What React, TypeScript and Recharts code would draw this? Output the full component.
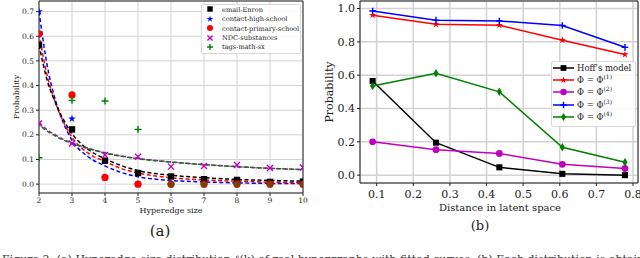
import React from 'react';
import {
  ComposedChart,
  Line,
  Scatter,
  XAxis,
  YAxis,
  CartesianGrid,
  ReferenceArea,
} from 'recharts';

// panel (a): hyperedge size distribution
const sizes = [2, 3, 4, 5, 6, 7, 8, 9, 10];
const enron = [0.565, 0.222, 0.095, 0.045, 0.031, 0.02, 0.017, 0.009, 0.01];
const highSchool = [0.7, 0.265, 0.027, 0, 0, 0, 0, 0, 0];
const primarySchool = [0.61, 0.362, 0.027, 0, 0, 0, 0, 0, 0];
const ndc = [0.246, 0.165, 0.118, 0.111, 0.071, 0.074, 0.078, 0.065, 0.067];
const tagsMath = [0.107, 0.34, 0.337, 0.222, 0, 0, 0, 0, 0];

// fitted curves
const fitX = [2, 2.25, 2.5, 2.75, 3, 3.5, 4, 4.5, 5, 6, 7, 8, 9, 10];
const fitEnron = [0.565, 0.42, 0.33, 0.26, 0.205, 0.14, 0.103, 0.075, 0.055, 0.036, 0.026, 0.019, 0.015, 0.012];
const fitPrimary = [0.61, 0.44, 0.33, 0.25, 0.19, 0.125, 0.092, 0.063, 0.045, 0.026, 0.017, 0.012, 0.008, 0.006];
const fitHigh = [0.7, 0.48, 0.34, 0.245, 0.178, 0.11, 0.074, 0.047, 0.03, 0.015, 0.009, 0.005, 0.003, 0.002];
const fitNdc = [0.25, 0.22, 0.2, 0.18, 0.167, 0.145, 0.127, 0.114, 0.104, 0.09, 0.079, 0.071, 0.064, 0.059];
const fitTags = [0.24, 0.215, 0.195, 0.178, 0.165, 0.144, 0.126, 0.113, 0.103, 0.089, 0.079, 0.071, 0.064, 0.059];

const yTicksA = [0, 0.1, 0.2, 0.3, 0.4, 0.5, 0.6, 0.7];

// panel (b): probability vs latent distance
const distances = [0.089, 0.262, 0.435, 0.607, 0.778];
const hoff = [0.565, 0.195, 0.047, 0.008, 0.0];
const phi1 = [0.96, 0.905, 0.9, 0.81, 0.724];
const phi2 = [0.2, 0.153, 0.13, 0.065, 0.04];
const phi3 = [0.985, 0.93, 0.925, 0.898, 0.767];
const phi4 = [0.535, 0.612, 0.5, 0.167, 0.078];

const xTicksB = [0.1, 0.2, 0.3, 0.4, 0.5, 0.6, 0.7, 0.8];
const yTicksB = [0, 0.2, 0.4, 0.6, 0.8, 1.0];

const FONT = 'DejaVu Serif';

const pts = (xs: number[], ys: number[]) => xs.map((x, i) => ({ x, y: ys[i] }));

// marker shapes (matplotlib-like)
const starPath = (cx: number, cy: number, r: number) => {
  let d = '';
  for (let i = 0; i < 10; i++) {
    const rad = i % 2 === 0 ? r : r * 0.382;
    const a = -Math.PI / 2 + (i * Math.PI) / 5;
    d += (i === 0 ? 'M' : 'L') + (cx + rad * Math.cos(a)) + ',' + (cy + rad * Math.sin(a));
  }
  return d + 'Z';
};

function Marker({ kind, cx, cy, color, s = 1 }: { kind: string; cx: number; cy: number; color: string; s?: number }) {
  if (cx == null || cy == null) return null;
  switch (kind) {
    case 'square':
      return <rect x={cx - 3.2 * s} y={cy - 3.2 * s} width={6.4 * s} height={6.4 * s} fill={color} />;
    case 'star':
      return <path d={starPath(cx, cy, 4 * s)} fill={color} />;
    case 'circle':
      return <circle cx={cx} cy={cy} r={3.6 * s} fill={color} />;
    case 'x':
      return (
        <path
          d={`M${cx - 3 * s},${cy - 3 * s}L${cx + 3 * s},${cy + 3 * s}M${cx - 3 * s},${cy + 3 * s}L${cx + 3 * s},${cy - 3 * s}`}
          stroke={color}
          strokeWidth={1.4}
        />
      );
    case 'plus':
      return (
        <path
          d={`M${cx - 3.5 * s},${cy}L${cx + 3.5 * s},${cy}M${cx},${cy - 3.5 * s}L${cx},${cy + 3.5 * s}`}
          stroke={color}
          strokeWidth={1.4}
        />
      );
    case 'thin_diamond':
      return (
        <path
          d={`M${cx},${cy - 4.5 * s}L${cx + 2.7 * s},${cy}L${cx},${cy + 4.5 * s}L${cx - 2.7 * s},${cy}Z`}
          fill={color}
        />
      );
    default:
      return null;
  }
}

const scatterShape = (kind: string, color: string, s = 1) => (p: any) => (
  <Marker kind={kind} cx={p.cx} cy={p.cy} color={color} s={s} />
);

const lineDot = (kind: string, color: string) => (p: any) => (
  <Marker key={p.index} kind={kind} cx={p.cx} cy={p.cy} color={color} s={0.95} />
);

const tickA = { fontSize: 7.5, fill: '#222', fontFamily: FONT };
const tickB = { fontSize: 11, fill: '#222', fontFamily: FONT };

const seriesA = [
  { name: 'email-Enron', kind: 'square', color: '#000000' },
  { name: 'contact-high-school', kind: 'star', color: '#0000ff' },
  { name: 'contact-primary-school', kind: 'circle', color: '#ff0000' },
  { name: 'NDC-substances', kind: 'x', color: '#bf00bf' },
  { name: 'tags-math-sx', kind: 'plus', color: '#008000' },
];

const seriesB = [
  { sup: '', label: "Hoff's model", kind: 'square', color: '#000000' },
  { sup: '(1)', label: 'Φ = Φ', kind: 'star', color: '#ff0000' },
  { sup: '(2)', label: 'Φ = Φ', kind: 'circle', color: '#bf00bf' },
  { sup: '(3)', label: 'Φ = Φ', kind: 'plus', color: '#0000ff' },
  { sup: '(4)', label: 'Φ = Φ', kind: 'thin_diamond', color: '#008000' },
];

function PanelA() {
  const dash = '4 2.5';
  return (
    <ComposedChart width={320} height={258} margin={{ top: 1, right: 17, bottom: 45, left: 0 }}>
      <CartesianGrid stroke="#d2d2d2" strokeWidth={1} />
      <XAxis
        dataKey="x"
        type="number"
        domain={[2, 10]}
        ticks={sizes}
        allowDataOverflow
        tick={tickA}
        tickSize={3}
        height={20}
        axisLine={false}
        tickLine={{ stroke: '#222' }}
      />
      <YAxis
        type="number"
        domain={[-0.036, 0.743]}
        ticks={yTicksA}
        allowDataOverflow
        tick={tickA}
        tickSize={3}
        width={39}
        axisLine={false}
        tickLine={{ stroke: '#222' }}
        tickFormatter={(v: number) => v.toFixed(1)}
      />
      <Line data={pts(fitX, fitHigh)} dataKey="y" type="monotone" stroke="#0000ff" strokeWidth={1.5} strokeDasharray={dash} dot={false} isAnimationActive={false} />
      <Line data={pts(fitX, fitPrimary)} dataKey="y" type="monotone" stroke="#ff0000" strokeWidth={1.5} strokeDasharray={dash} dot={false} isAnimationActive={false} />
      <Line data={pts(fitX, fitEnron)} dataKey="y" type="monotone" stroke="#000000" strokeWidth={1.5} strokeDasharray={dash} dot={false} isAnimationActive={false} />
      <Line data={pts(fitX, fitNdc)} dataKey="y" type="monotone" stroke="#bf00bf" strokeWidth={1.5} strokeDasharray={dash} dot={false} isAnimationActive={false} />
      <Line data={pts(fitX, fitTags)} dataKey="y" type="monotone" stroke="#008000" strokeWidth={1.5} strokeDasharray={dash} strokeDashoffset={3} dot={false} isAnimationActive={false} />
      <Scatter data={pts(sizes, highSchool)} dataKey="y" shape={scatterShape('star', '#0000ff')} isAnimationActive={false} />
      <Scatter data={pts(sizes, enron)} dataKey="y" shape={scatterShape('square', '#000000')} isAnimationActive={false} />
      <Scatter data={pts(sizes, primarySchool)} dataKey="y" shape={scatterShape('circle', '#ff0000')} isAnimationActive={false} />
      <Scatter data={pts(sizes, ndc)} dataKey="y" shape={scatterShape('x', '#bf00bf')} isAnimationActive={false} />
      <Scatter data={pts(sizes, tagsMath)} dataKey="y" shape={scatterShape('plus', '#008000')} isAnimationActive={false} />
      <ReferenceArea x1={2} x2={10} y1={-0.036} y2={0.743} fill="none" stroke="#222" strokeWidth={1} ifOverflow="visible" />
    </ComposedChart>
  );
}

function PanelB() {
  const lines = [hoff, phi1, phi2, phi3, phi4];
  return (
    <ComposedChart width={320} height={258} margin={{ top: 1, right: 2, bottom: 55, left: 0 }}>
      <CartesianGrid stroke="#d2d2d2" strokeWidth={1.5} />
      <XAxis
        dataKey="x"
        type="number"
        domain={[0.0545, 0.8136]}
        ticks={xTicksB}
        allowDataOverflow
        tick={tickB}
        tickSize={3}
        tickMargin={4}
        height={20}
        axisLine={false}
        tickLine={{ stroke: '#222' }}
        tickFormatter={(v: number) => v.toFixed(1)}
      />
      <YAxis
        type="number"
        domain={[-0.047, 1.045]}
        ticks={yTicksB}
        allowDataOverflow
        tick={tickB}
        tickSize={3}
        width={40}
        axisLine={false}
        tickLine={{ stroke: '#222' }}
        tickFormatter={(v: number) => v.toFixed(1)}
      />
      {lines.map((ys, i) => (
        <Line
          key={i}
          data={pts(distances, ys)}
          dataKey="y"
          type="linear"
          stroke={seriesB[i].color}
          strokeWidth={1.5}
          dot={lineDot(seriesB[i].kind, seriesB[i].color)}
          isAnimationActive={false}
        />
      ))}
      <ReferenceArea x1={0.0545} x2={0.8136} y1={-0.047} y2={1.045} fill="none" stroke="#222" strokeWidth={1} ifOverflow="visible" />
    </ComposedChart>
  );
}

const abs = (style: React.CSSProperties): React.CSSProperties => ({ position: 'absolute', ...style });

export default function App() {
  return (
    <div style={abs({ left: 0, top: 0, width: 640, height: 258, overflow: 'hidden', background: '#fff', fontFamily: FONT, color: '#222' })}>
      <div style={abs({ left: 0, top: 0 })}>
        <PanelA />
      </div>
      <div style={abs({ left: 320, top: 0 })}>
        <PanelB />
      </div>

      {/* panel (a) labels */}
      <div style={abs({ left: 15.5, top: 97, fontSize: 8, transform: 'translate(-50%, -50%) rotate(-90deg)', whiteSpace: 'nowrap' })}>Probability</div>
      <div style={abs({ left: 171, top: 210, fontSize: 8, transform: 'translate(-50%, -50%)', whiteSpace: 'nowrap' })}>Hyperedge size</div>
      <div style={abs({ left: 160, top: 231, fontSize: 15, transform: 'translate(-50%, -50%)', whiteSpace: 'nowrap' })}>(a)</div>

      {/* panel (a) legend */}
      <div style={abs({ left: 201, top: 4, width: 98, height: 48, border: '1px solid #d8d8d8', borderRadius: 2, background: 'rgba(255,255,255,0.85)' })} />
      {seriesA.map((s, i) => (
        <div key={s.name} style={abs({ left: 205, top: 9.3 + 9.4 * i, height: 9, transform: 'translateY(-50%)', display: 'flex', alignItems: 'center', whiteSpace: 'nowrap', fontSize: 6.6 })}>
          <svg width={10} height={9} style={{ marginRight: 7 }}>
            <Marker kind={s.kind} cx={5} cy={4.5} color={s.color} s={0.85} />
          </svg>
          <span>{s.name}</span>
        </div>
      ))}

      {/* panel (b) labels */}
      <div style={abs({ left: 329, top: 92, fontSize: 11, transform: 'translate(-50%, -50%) rotate(-90deg)', whiteSpace: 'nowrap' })}>Probability</div>
      <div style={abs({ left: 500, top: 207, fontSize: 10, transform: 'translate(-50%, -50%)', whiteSpace: 'nowrap' })}>Distance in latent space</div>
      <div style={abs({ left: 480, top: 225, fontSize: 13, transform: 'translate(-50%, -50%)', whiteSpace: 'nowrap' })}>(b)</div>

      {/* panel (b) legend */}
      <div style={abs({ left: 551, top: 61, width: 83, height: 64, border: '1px solid #d8d8d8', borderRadius: 2, background: 'rgba(255,255,255,0.85)' })} />
      {seriesB.map((s, i) => (
        <div key={i} style={abs({ left: 553, top: 68 + 12.2 * i, height: 10, transform: 'translateY(-50%)', display: 'flex', alignItems: 'center', whiteSpace: 'nowrap', fontSize: 8.5 })}>
          <svg width={21} height={10} style={{ marginRight: 3 }}>
            <line x1={0} y1={5} x2={21} y2={5} stroke={s.color} strokeWidth={1.5} />
            <Marker kind={s.kind} cx={10.5} cy={5} color={s.color} s={0.9} />
          </svg>
          <span>
            {s.label}
            {s.sup && <sup style={{ fontSize: 6, verticalAlign: 'super', lineHeight: 0 }}>{s.sup}</sup>}
          </span>
        </div>
      ))}

      {/* caption, cut off by the page edge */}
      <div style={abs({ left: 2, top: 254, fontSize: 11, lineHeight: '12px', whiteSpace: 'nowrap', color: '#333' })}>
        Figure 2: (a) Hyperedge size distribution ℓ(k) of real hypergraphs with fitted curves. (b) Each distribution is obtained for a fixed latent distance.
      </div>
    </div>
  );
}
